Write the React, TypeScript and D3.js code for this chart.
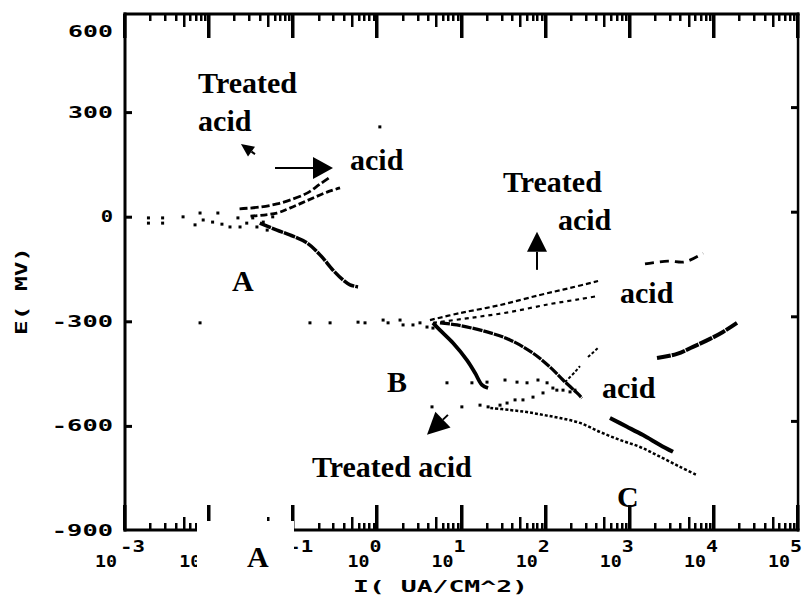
import React from "react";
import * as d3 from "d3";

type Pt = [number, number]; // [I in uA/cm2, E in mV]

// region A (around 0 mV)
const aDots: Pt[] = [
  [0.0019, -2], [0.0019, -17], [0.0028, -2], [0.0028, -17], [0.0049, 1], [0.0068, -22],
  [0.0078, 12], [0.0085, -8], [0.011, -14], [0.0127, 12], [0.0142, -20], [0.0177, -28],
  [0.022, -2], [0.0233, -28], [0.028, -17], [0.033, -2], [0.037, -28], [0.044, -14],
  [0.049, -37], [0.057, 1],
];
const aAnodicUpper: Pt[] = [[0.023, 24], [0.04, 29], [0.064, 38], [0.091, 49], [0.146, 69], [0.208, 95], [0.274, 115]];
const aAnodicLower: Pt[] = [[0.031, 3], [0.064, 12], [0.091, 26], [0.127, 41], [0.172, 55], [0.252, 72], [0.36, 84]];
const aCathodic: Pt[] = [[0.04, -17], [0.064, -37], [0.091, -51], [0.146, -74], [0.208, -108], [0.297, -152], [0.39, -180], [0.473, -194], [0.589, -200]];
const strayDots: Pt[] = [[1.07, 259]];

// region B (around -300 mV)
const bDots: Pt[] = [
  [0.0078, -303], [0.158, -303], [0.274, -303], [0.589, -301], [0.713, -303], [1.17, -295],
  [1.34, -303], [1.86, -295], [2.02, -309], [2.65, -309], [3.21, -303], [3.89, -315], [4.58, -318],
];
const bAnodicUpper: Pt[] = [[4.22, -295], [9.6, -275], [28.7, -252], [85.7, -223], [195, -203], [420, -183]];
const bAnodicUpperEnd: Pt[] = [[1518, -134], [2851, -126], [4538, -128], [7430, -103]];
const bAnodicLower: Pt[] = [[4.58, -303], [12.6, -289], [37.7, -272], [113, -249], [256, -235], [420, -226]];
const bCathodicSteep: Pt[] = [[4.58, -303], [5.55, -324], [7.93, -361], [11.6, -410], [14.5, -447], [17.5, -481], [20.7, -490]];
const bCathodicLong: Pt[] = [[5.55, -303], [8.84, -309], [20.1, -329], [37.7, -352], [70.8, -390], [113, -430], [161, -467], [236, -504], [271, -519]];
const bAcidDots: Pt[] = [[6.72, -475], [13.3, -475], [20.1, -473], [32.9, -467], [45.7, -473], [60.1, -475], [81.1, -467], [104, -475], [122, -490], [161, -496], [195, -501]];
const bAcidRise1: Pt[] = [[170, -473], [223, -444], [256, -427]];
const bAcidRise2: Pt[] = [[319, -401], [420, -375]];

// region C (around -550 mV)
const cTreatedDots: Pt[] = [[4.46, -544], [10.1, -544], [16.6, -539], [20.7, -544], [28.7, -539], [34.8, -533], [43.3, -524], [53.8, -524], [70.8, -516], [93.1, -504], [136, -496], [223, -496]];
const cTreated: Pt[] = [[22, -547], [37.7, -553], [60.1, -559], [93.1, -567], [148, -576], [256, -590], [443, -616], [766, -639], [1324, -659], [2291, -687], [3955, -716], [6306, -740]];
const cAcid: Pt[] = [[582, -576], [927, -601], [1437, -625], [2291, -653], [3267, -673]];
const dAcid: Pt[] = [[2108, -404], [3648, -392], [5646, -372], [8995, -349], [12830, -329], [18830, -303]];

const eTicks = [600, 300, 0, -300, -600, -900];
const decades = [-3, -2, -1, 0, 1, 2, 3, 4, 5];
// parts of the lower labels that sit under the pasted patch in the scan
const hiddenBase = [-1];
const hiddenExp = [-2];

// annotations, anchored in data space
const notes: { text: string; at: Pt }[] = [
  { text: "Treated", at: [0.0074, 356] },
  { text: "acid", at: [0.0074, 247] },
  { text: "acid", at: [0.473, 135] },
  { text: "A", at: [0.0187, -212] },
  { text: "Treated", at: [31.1, 72] },
  { text: "acid", at: [140, -37] },
  { text: "acid", at: [766, -246] },
  { text: "B", at: [1.3, -501] },
  { text: "acid", at: [468, -519] },
  { text: "Treated acid", at: [0.167, -745] },
  { text: "C", at: [705, -831] },
  { text: "A", at: [0.0282, -1003] },
];
const arrows: { tail: Pt; tip: Pt; head: number; half: number }[] = [
  { tail: [0.0607, 141], tip: [0.297, 141], head: 20, half: 11 },
  { tail: [0.0351, 181], tip: [0.0239, 210], head: 13, half: 6 },
  { tail: [79, -151], tip: [79, -42], head: 20, half: 10 },
  { tail: [6.9, -567], tip: [3.89, -624], head: 22, half: 11 },
];

const mono = "'DejaVu Sans Mono', monospace";
const serif = "'Liberation Serif', 'Times New Roman', serif";
const ink = "#000";

export default function App() {
  const x = d3.scaleLog().domain([1e-3, 1e5]).range([125, 798]);
  const y = d3.scaleLinear().domain([-900, 600]).range([531, 8]);
  const top = 14;
  const bottom = 530;
  const patch = { x0: 197, x1: 294, y0: 521, y1: 592 };

  const line = d3.line<Pt>()
    .x((d) => x(d[0]))
    .y((d) => y(d[1]))
    .curve(d3.curveCatmullRom.alpha(0.5));

  // tick marks as filled rectangles
  const ticks: { x: number; y: number; w: number; h: number }[] = [];
  decades.forEach((k) => {
    const px = Math.round(x(10 ** k));
    ticks.push({ x: px - 2, y: top, w: 3.5, h: 24 });
    ticks.push({ x: px - 2, y: bottom - 25, w: 3.5, h: 25 });
    if (k < 5) {
      for (let m = 2; m <= 9; m++) {
        const mx = Math.round(x(m * 10 ** k));
        const len = m === 5 ? 13 : 7;
        ticks.push({ x: mx - 1, y: top, w: 2.5, h: len });
        ticks.push({ x: mx - 1, y: bottom - len, w: 2.5, h: len });
      }
    }
  });
  eTicks.slice(1, -1).forEach((v) => {
    ticks.push({ x: x(1e-3), y: y(v) - 1.5, w: 7, h: 3 });
    ticks.push({ x: x(1e5) - 7, y: y(v) - 6.5, w: 7, h: 3 });
  });

  const dots = (pts: Pt[], key: string) =>
    pts.map((d, i) => (
      <rect key={key + i} x={x(d[0]) - 1.5} y={y(d[1]) - 1.5} width={3} height={3} fill={ink} />
    ));

  const path = (pts: Pt[], w: number, dash?: string) => (
    <path d={line(pts) ?? ""} fill="none" stroke={ink} strokeWidth={w} strokeDasharray={dash} />
  );

  return (
    <svg width={803} height={608} style={{ position: "absolute", left: 0, top: 0 }}>
      <rect width={803} height={608} fill="#fff" />

      {/* frame */}
      <rect x={x(1e-3) - 1.5} y={top - 1.5} width={x(1e5) - x(1e-3) + 3} height={3} fill={ink} />
      <rect x={x(1e-3) - 1.5} y={bottom - 1.5} width={x(1e5) - x(1e-3) + 3} height={3} fill={ink} />
      <rect x={x(1e-3) - 1.5} y={top - 1.5} width={3} height={bottom - top + 3} fill={ink} />
      <rect x={x(1e5) - 1.2} y={top - 1.5} width={2.5} height={bottom - top + 3} fill={ink} />

      {/* ticks */}
      {ticks.map((t, i) => (
        <rect key={"t" + i} x={t.x} y={t.y} width={t.w} height={t.h} fill={ink} />
      ))}

      {/* x tick labels */}
      {decades.map((k) => (
        <g key={"xl" + k} fontFamily={mono} fontWeight="bold" fontSize={16}>
          {!hiddenBase.includes(k) && (
            <text x={x(10 ** k) - 30} y={567} textLength={22} lengthAdjust="spacingAndGlyphs">10</text>
          )}
          {!hiddenExp.includes(k) && (
            <text x={x(10 ** k) - (k < 0 ? 5 : 8)} y={552}
              textLength={String(k).length * 13 - 1} lengthAdjust="spacingAndGlyphs">{String(k)}</text>
          )}
        </g>
      ))}

      {/* pasted-over patch on the lower axis, as in the scan */}
      <rect x={patch.x0} y={patch.y0} width={patch.x1 - patch.x0} height={patch.y1 - patch.y0} fill="#fff" />

      {/* y tick labels */}
      {eTicks.map((v) => {
        const s = String(v);
        return (
          <text key={"el" + v} x={113} y={Math.max(y(v) + 5, top + 23)} textAnchor="end"
            fontFamily={mono} fontWeight="bold" fontSize={15}
            textLength={s.length * 16.3 - 4} lengthAdjust="spacingAndGlyphs">{s}</text>
        );
      })}

      {/* axis titles */}
      <text transform="translate(27,291) rotate(-90)" textAnchor="middle" fontFamily={mono}
        fontWeight="bold" fontSize={15} textLength={88} lengthAdjust="spacingAndGlyphs">E( MV)</text>
      <text x={353} y={592} fontFamily={mono} fontWeight="bold" fontSize={16}
        textLength={175} lengthAdjust="spacingAndGlyphs">I( UA/CM^2)</text>

      {/* data */}
      {dots(aDots, "ad")}
      {dots(strayDots, "sd")}
      {path(aAnodicUpper, 2.8, "8 3")}
      {path(aAnodicLower, 2.8, "7 3")}
      {path(aCathodic, 3.5, "12 1")}

      {dots(bDots, "bd")}
      {path(bAnodicUpper, 2.2, "5 3")}
      {path(bAnodicUpperEnd, 2.8, "9 6")}
      {path(bAnodicLower, 2.2, "4 4")}
      {path(bCathodicSteep, 3.8)}
      {path(bCathodicLong, 3.2, "10 1")}
      {dots(bAcidDots, "bad")}
      {path(bAcidRise1, 2, "3 2")}
      {path(bAcidRise2, 2, "3 2")}

      {dots(cTreatedDots, "ctd")}
      {path(cTreated, 2.5, "3 2")}
      {path(cAcid, 4)}
      {path(dAcid, 4, "14 1")}

      {/* annotations */}
      {notes.map((n, i) => (
        <text key={"n" + i} x={x(n.at[0])} y={y(n.at[1])} fontFamily={serif} fontWeight="bold" fontSize={30}>
          {n.text}
        </text>
      ))}
      {arrows.map((a, i) => {
        const x0 = x(a.tail[0]), y0 = y(a.tail[1]);
        const x1 = x(a.tip[0]), y1 = y(a.tip[1]);
        const len = Math.hypot(x1 - x0, y1 - y0);
        const ux = (x1 - x0) / len, uy = (y1 - y0) / len;
        const bx = x1 - ux * a.head, by = y1 - uy * a.head;
        const pts = [
          [x1, y1],
          [bx - uy * a.half, by + ux * a.half],
          [bx + uy * a.half, by - ux * a.half],
        ].map((p) => p.join(",")).join(" ");
        return (
          <g key={"a" + i}>
            <line x1={x0} y1={y0} x2={bx} y2={by} stroke={ink} strokeWidth={2} />
            <polygon points={pts} fill={ink} />
          </g>
        );
      })}
    </svg>
  );
}
